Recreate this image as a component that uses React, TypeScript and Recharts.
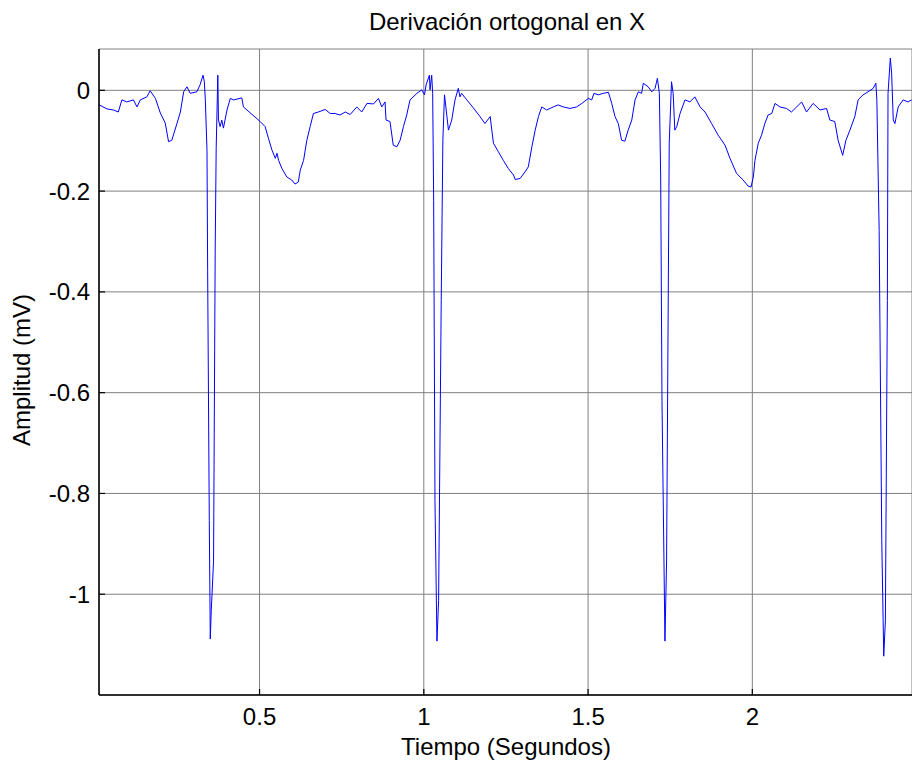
import React from 'react';
import { LineChart, Line, XAxis, YAxis, CartesianGrid } from 'recharts';

if (typeof document !== 'undefined') {
  document.body.style.margin = '0';
}

const TIME = [0.012,0.036,0.055,0.070,0.081,0.096,0.116,0.127,0.137,0.157,0.167,0.183,0.198,0.213,0.223,0.233,0.249,0.259,0.269,0.279,0.289,0.309,0.319,0.328,0.332,0.335,0.340,0.342,0.347,0.350,0.353,0.360,0.365,0.368,0.373,0.375,0.380,0.385,0.390,0.401,0.411,0.421,0.446,0.451,0.502,0.517,0.527,0.538,0.548,0.553,0.558,0.568,0.583,0.598,0.608,0.618,0.624,0.634,0.644,0.654,0.664,0.679,0.700,0.715,0.730,0.745,0.761,0.776,0.796,0.811,0.827,0.847,0.862,0.872,0.882,0.885,0.897,0.907,0.918,0.928,0.938,0.948,0.958,0.979,0.994,1.002,1.007,1.017,1.019,1.024,1.027,1.030,1.034,1.040,1.045,1.053,1.058,1.063,1.075,1.085,1.095,1.105,1.110,1.115,1.131,1.151,1.171,1.186,1.202,1.207,1.212,1.227,1.242,1.257,1.273,1.278,1.293,1.308,1.318,1.329,1.339,1.349,1.359,1.374,1.394,1.409,1.425,1.445,1.465,1.481,1.501,1.511,1.518,1.531,1.546,1.562,1.572,1.582,1.592,1.602,1.612,1.622,1.633,1.643,1.653,1.663,1.668,1.683,1.694,1.704,1.711,1.717,1.721,1.725,1.734,1.739,1.747,1.754,1.759,1.764,1.770,1.780,1.795,1.810,1.825,1.841,1.856,1.876,1.896,1.917,1.932,1.952,1.972,1.987,1.996,2.003,2.008,2.018,2.028,2.038,2.048,2.059,2.069,2.084,2.104,2.119,2.135,2.150,2.165,2.185,2.206,2.226,2.236,2.251,2.261,2.275,2.285,2.297,2.312,2.322,2.337,2.352,2.368,2.376,2.379,2.386,2.394,2.400,2.405,2.411,2.413,2.420,2.424,2.429,2.434,2.444,2.459,2.474,2.485];

const AMPLITUDE = [-0.029,-0.037,-0.039,-0.043,-0.019,-0.023,-0.019,-0.033,-0.019,-0.013,-0.001,-0.016,-0.045,-0.065,-0.102,-0.099,-0.065,-0.043,-0.003,0.007,-0.006,-0.003,0.011,0.030,0.017,-0.019,-0.119,-0.357,-0.854,-1.089,-1.033,-0.934,-0.317,-0.115,0.030,-0.059,-0.072,-0.059,-0.075,-0.039,-0.016,-0.019,-0.015,-0.033,-0.062,-0.072,-0.095,-0.119,-0.135,-0.125,-0.139,-0.155,-0.172,-0.178,-0.186,-0.182,-0.158,-0.139,-0.099,-0.072,-0.046,-0.043,-0.038,-0.046,-0.046,-0.049,-0.043,-0.048,-0.033,-0.043,-0.026,-0.027,-0.016,-0.033,-0.023,-0.059,-0.062,-0.109,-0.112,-0.099,-0.072,-0.049,-0.019,-0.006,0.001,-0.009,0.011,0.030,0.001,0.030,-0.006,-0.218,-0.814,-1.093,-1.013,-0.417,-0.099,-0.009,-0.079,-0.059,-0.019,0.004,-0.013,-0.006,-0.019,-0.035,-0.052,-0.066,-0.052,-0.079,-0.105,-0.122,-0.139,-0.155,-0.168,-0.177,-0.175,-0.162,-0.152,-0.112,-0.079,-0.052,-0.033,-0.039,-0.033,-0.029,-0.033,-0.036,-0.033,-0.026,-0.016,-0.019,-0.006,-0.009,-0.006,-0.004,-0.026,-0.052,-0.066,-0.099,-0.101,-0.079,-0.059,-0.019,-0.003,-0.006,0.014,0.007,-0.003,0.004,0.024,-0.006,-0.172,-0.616,-1.093,-0.934,-0.105,0.017,-0.006,-0.079,-0.072,-0.046,-0.019,-0.023,-0.013,-0.033,-0.043,-0.066,-0.089,-0.109,-0.135,-0.165,-0.178,-0.190,-0.192,-0.172,-0.139,-0.105,-0.089,-0.066,-0.049,-0.046,-0.026,-0.033,-0.036,-0.043,-0.033,-0.023,-0.043,-0.026,-0.039,-0.036,-0.059,-0.062,-0.099,-0.129,-0.099,-0.079,-0.052,-0.019,-0.009,-0.003,0.004,0.014,-0.019,-0.278,-0.894,-1.123,-1.053,-0.417,-0.006,0.064,0.034,-0.059,-0.066,-0.033,-0.019,-0.023,-0.019];

const X_TICKS = [0.5, 1, 1.5, 2];
const Y_TICKS = [-1, -0.8, -0.6, -0.4, -0.2, 0];
const X_DOMAIN = [0.0113, 2.486];
const Y_DOMAIN = [-1.2, 0.082];
const TITLE = 'Derivación ortogonal en X';
const X_LABEL = 'Tiempo (Segundos)';
const Y_LABEL = 'Amplitud (mV)';

const data = TIME.map((t, i) => ({ t, v: AMPLITUDE[i] }));

const FONT = '"Liberation Sans", Arial, Helvetica, sans-serif';
const FS = 24;

const YTick = (props: any) => {
  const { x, y, payload } = props;
  return (
    <g>
      <text x={x} y={y} dy={8.6} textAnchor="end" fontSize={FS} fontFamily={FONT} fill="#000">
        {String(payload.value)}
      </text>
      <line x1={x + 9} x2={x + 15} y1={y} y2={y} stroke="#000" strokeWidth={1.2} />
    </g>
  );
};

const XTick = (props: any) => {
  const { x, y, payload } = props;
  return (
    <g>
      <text x={x} y={y + 22} textAnchor="middle" fontSize={FS} fontFamily={FONT} fill="#000">
        {String(payload.value)}
      </text>
      <line x1={x} x2={x} y1={y - 8} y2={y - 14} stroke="#000" strokeWidth={1.2} />
    </g>
  );
};

const TopTick = (props: any) => {
  const { x, y } = props;
  return <line x1={x} x2={x} y1={y} y2={y + 6} stroke="#000" strokeWidth={1.2} />;
};

export default function App() {
  return (
    <div style={{ position: 'relative', width: 912, height: 764, background: '#fff' }}>
      <LineChart
        width={912}
        height={764}
        data={data}
        margin={{ top: 49, right: 0, bottom: 39, left: 0 }}
      >
        <CartesianGrid stroke="#808080" strokeWidth={1} />
        <XAxis
          dataKey="t"
          type="number"
          domain={X_DOMAIN}
          ticks={X_TICKS}
          allowDataOverflow
          interval={0}
          height={30}
          tickSize={0}
          tickMargin={8}
          tickLine={false}
          axisLine={{ stroke: '#000', strokeWidth: 1.5 }}
          tick={<XTick />}
        />
        <XAxis
          xAxisId="top"
          orientation="top"
          dataKey="t"
          type="number"
          domain={X_DOMAIN}
          ticks={X_TICKS}
          allowDataOverflow
          interval={0}
          height={0}
          tickSize={0}
          tickMargin={0}
          tickLine={false}
          axisLine={{ stroke: '#222', strokeWidth: 2 }}
          tick={<TopTick />}
        />
        <YAxis
          type="number"
          domain={Y_DOMAIN}
          ticks={Y_TICKS}
          allowDataOverflow
          interval={0}
          width={99}
          tickSize={0}
          tickMargin={9}
          tickLine={false}
          axisLine={{ stroke: '#000', strokeWidth: 1.5 }}
          tick={<YTick />}
        />
        <Line
          dataKey="v"
          type="linear"
          stroke="#0000ff"
          strokeWidth={1}
          dot={false}
          isAnimationActive={false}
        />
      </LineChart>
      <svg
        width={912}
        height={764}
        style={{ position: 'absolute', left: 0, top: 0, pointerEvents: 'none', overflow: 'visible' }}
      >
        <text x={507} y={30} textAnchor="middle" fontSize={FS} fontFamily={FONT} fill="#000">
          {TITLE}
        </text>
        <text x={506} y={755} textAnchor="middle" fontSize={FS} fontFamily={FONT} fill="#000">
          {X_LABEL}
        </text>
        <text
          x={30}
          y={370}
          textAnchor="middle"
          fontSize={FS}
          fontFamily={FONT}
          fill="#000"
          transform="rotate(-90 30 370)"
        >
          {Y_LABEL}
        </text>
      </svg>
    </div>
  );
}
